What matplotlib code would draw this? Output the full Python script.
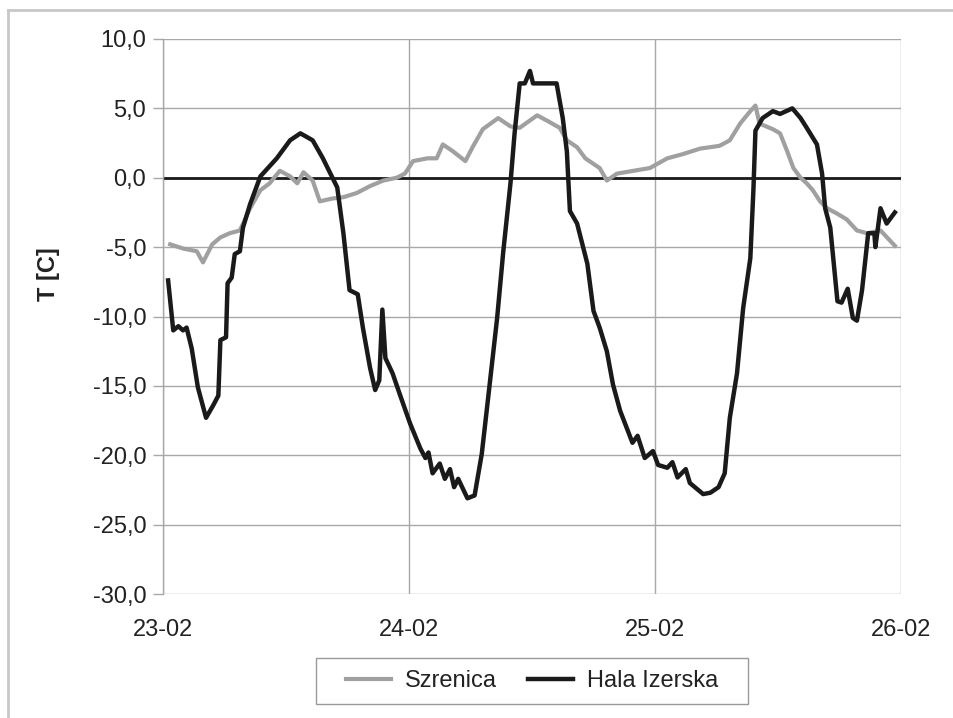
import matplotlib
matplotlib.use("Agg")
import matplotlib.pyplot as plt
from matplotlib.lines import Line2D
from matplotlib.patches import Rectangle

plt.rcParams['font.family'] = ['Liberation Sans Narrow', 'Liberation Sans', 'DejaVu Sans']

# godziny od 23-02 00:00
szrenica_h = [0.7, 1.95, 3.3, 3.9, 4.8, 5.6, 6.5, 7.5, 8.5, 9.5, 10.4, 11.4, 12.4, 13.1,
              13.7, 14.6, 15.3, 16.5, 17.6, 18.9, 20.2, 21.5, 22.8, 23.6, 24.4, 25.8,
              26.7, 27.3, 28.3, 29.5, 30.2, 31.2, 32.7, 33.9, 34.8, 36.5, 37.5, 38.7,
              39.4, 40.4, 41.2, 42.0, 42.6, 43.3, 44.3, 45.9, 47.5, 49.2, 50.7, 52.4,
              54.3, 55.3, 56.3, 57.3, 57.8, 58.2, 59.5, 60.2, 60.9, 61.5, 62.2, 62.8,
              63.4, 64.1, 64.8, 65.8, 66.7, 67.7, 68.7, 70.0, 71.4]
szrenica_t = [-4.8, -5.1, -5.3, -6.1, -4.8, -4.3, -4.0, -3.8, -2.2, -0.9, -0.4, 0.5, 0.1, -0.4,
              0.4, -0.2, -1.7, -1.5, -1.4, -1.1, -0.6, -0.2, 0.0, 0.3, 1.2, 1.4,
              1.4, 2.4, 1.9, 1.2, 2.2, 3.5, 4.3, 3.7, 3.6, 4.5, 4.1, 3.6,
              2.7, 2.2, 1.4, 1.0, 0.7, -0.2, 0.3, 0.5, 0.7, 1.4, 1.7, 2.1,
              2.3, 2.7, 3.9, 4.8, 5.2, 3.9, 3.5, 3.2, 1.9, 0.7, 0.0, -0.4,
              -0.9, -1.7, -2.2, -2.6, -3.0, -3.8, -4.0, -3.8, -4.9]

hala_h = [0.5, 1.0, 1.5, 1.95, 2.3, 2.8, 3.4, 4.2, 4.9, 5.4, 5.6, 6.15, 6.3, 6.7, 7.0,
          7.5, 7.8, 8.5, 9.5, 11.1, 12.4, 13.4, 14.6, 15.6, 17.0, 17.6, 18.2, 19.0,
          19.5, 20.2, 20.7, 21.1, 21.4, 21.7, 22.4, 23.1, 24.1, 25.1, 25.6, 25.9,
          26.3, 27.0, 27.5, 28.0, 28.4, 28.8, 29.7, 30.4, 31.1, 31.7, 32.6, 33.2,
          33.9, 34.3, 34.8, 35.3, 35.8, 36.1, 37.5, 38.4, 39.0, 39.4, 39.7, 40.4,
          41.4, 42.0, 42.6, 43.3, 43.9, 44.6, 45.8, 46.3, 47.0, 47.8, 48.3, 49.2,
          49.7, 50.2, 51.0, 51.4, 52.7, 53.4, 54.2, 54.8, 55.3, 56.0, 56.6, 57.3,
          57.6, 57.8, 58.5, 59.5, 60.2, 61.4, 62.2, 62.8, 63.8, 64.3, 64.6, 65.1,
          65.8, 66.2, 66.8, 67.3, 67.7, 68.2, 68.8, 69.4, 69.5, 70.0, 70.6, 71.4]
hala_t = [-7.4, -11.0, -10.7, -11.0, -10.8, -12.3, -15.1, -17.3, -16.4, -15.7, -11.7, -11.5, -7.6, -7.2, -5.5,
          -5.3, -3.6, -1.9, 0.1, 1.4, 2.7, 3.2, 2.7, 1.4, -0.7, -4.0, -8.1, -8.4,
          -10.8, -13.7, -15.3, -14.6, -9.5, -13.0, -14.1, -15.6, -17.7, -19.5, -20.2, -19.8,
          -21.3, -20.6, -21.7, -21.0, -22.3, -21.7, -23.1, -22.9, -19.9, -16.0, -10.1, -5.3,
          -0.4, 3.2, 6.8, 6.8, 7.7, 6.8, 6.8, 6.8, 4.3, 1.9, -2.4, -3.3,
          -6.2, -9.6, -10.8, -12.5, -14.9, -16.8, -19.1, -18.6, -20.2, -19.7, -20.7, -20.9,
          -20.5, -21.6, -21.0, -22.0, -22.8, -22.7, -22.3, -21.3, -17.3, -14.1, -9.4, -5.8,
          -0.9, 3.4, 4.3, 4.8, 4.6, 5.0, 4.3, 3.6, 2.4, 0.3, -2.2, -3.6,
          -8.9, -9.0, -8.0, -10.1, -10.3, -8.1, -4.0, -4.0, -5.0, -2.2, -3.3, -2.5]

day_ticks = [0, 24, 48, 72]
day_labels = ['23-02', '24-02', '25-02', '26-02']
t_ticks = [10, 5, 0, -5, -10, -15, -20, -25, -30]

grid_col = '#a8a8a8'
text_col = '#222222'

fig = plt.figure(figsize=(9.54, 7.18), dpi=100)
ax = fig.add_axes([163 / 954, 1 - 594 / 718, (901 - 163) / 954, (594 - 39) / 718])

ax.set_xlim(0, 72)
ax.set_ylim(-30, 10)
ax.set_xticks(day_ticks)
ax.set_xticklabels(day_labels)
ax.set_yticks(t_ticks)
ax.set_yticklabels([f"{v:.1f}".replace('.', ',') for v in t_ticks])

ax.grid(True, color=grid_col, linewidth=1.0)
ax.set_axisbelow(True)
ax.axhline(0, color='#1a1a1a', linewidth=2.0, zorder=2)

for side in ['top', 'right', 'bottom']:
    ax.spines[side].set_visible(False)
ax.spines['left'].set_color(grid_col)
ax.spines['left'].set_linewidth(1.0)

ax.tick_params(axis='y', length=7, width=1.0, color=grid_col, pad=5,
               labelsize=17, labelcolor=text_col)
ax.tick_params(axis='x', length=0, pad=18, labelsize=17, labelcolor=text_col)

ax.plot(szrenica_h, szrenica_t, color='#a0a0a0', linewidth=3.0, zorder=3,
        solid_joinstyle='round', label='Szrenica')
ax.plot(hala_h, hala_t, color='#1a1a1a', linewidth=3.2, zorder=4,
        solid_joinstyle='round', label='Hala Izerska')

fig.text(48 / 954, 1 - 274 / 718, 'T [C]', rotation=90, ha='center', va='center',
         fontsize=17, fontweight='bold', color=text_col)

# legenda: ramka rysowana osobno, żeby zgadzała się szerokość
fig.add_artist(Rectangle((316 / 954, 1 - 704 / 718), (748 - 316) / 954, 46 / 718,
                         transform=fig.transFigure, facecolor='white',
                         edgecolor='#9a9a9a', linewidth=1.0))
leg = fig.legend(loc='center', bbox_to_anchor=(532 / 954, 1 - 681 / 718), ncol=2,
                 frameon=False, fontsize=17, handlelength=1.9,
                 columnspacing=1.3, borderpad=0.5, handletextpad=0.6)
for t in leg.get_texts():
    t.set_color(text_col)

# ramka wykresu
fig.add_artist(Line2D([8 / 954, 1], [1 - 10 / 718, 1 - 10 / 718], color='#c8c8c8', linewidth=2))
fig.add_artist(Line2D([8 / 954, 8 / 954], [0, 1 - 10 / 718], color='#c8c8c8', linewidth=2))

fig.savefig('out.png', dpi=100)
